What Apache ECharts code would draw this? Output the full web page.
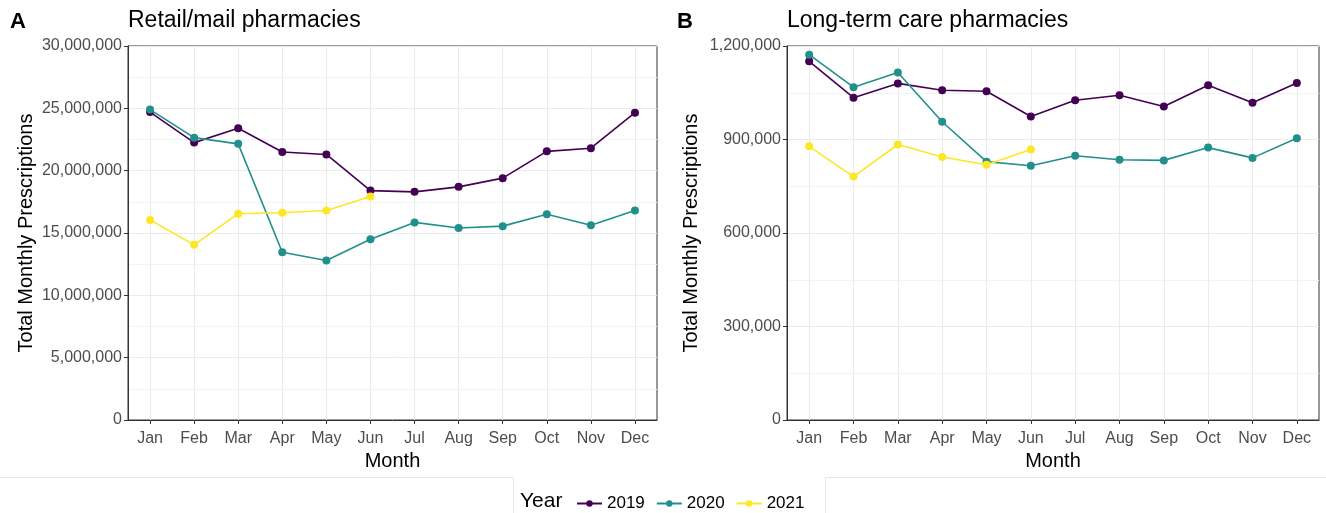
<!DOCTYPE html>
<html><head><meta charset="utf-8">
<script src="https://cdn.jsdelivr.net/npm/echarts@6/dist/echarts.min.js"></script>
<style>html,body{margin:0;padding:0;background:#fff}#c{width:1326px;height:513px}</style>
</head><body><div id="c"></div>
<script>
const months = ['Jan','Feb','Mar','Apr','May','Jun','Jul','Aug','Sep','Oct','Nov','Dec'];
const years = ['2019','2020','2021'];
const colors = ['#440154','#21908C','#FDE725'];
const retail2019 = [24700000,22250000,23400000,21500000,21300000,18400000,18300000,18700000,19400000,21550000,21800000,24650000];
const retail2020 = [24900000,22650000,22150000,13450000,12800000,14500000,15850000,15400000,15550000,16500000,15620000,16800000];
const retail2021 = [16050000,14050000,16550000,16620000,16800000,17930000];
const ltc2019 = [1151000,1034000,1080000,1058000,1055000,974000,1026000,1042000,1006000,1074000,1018000,1081000];
const ltc2020 = [1172000,1068000,1115000,957000,829000,816000,848000,835000,833000,874000,841000,904000];
const ltc2021 = [878000,781000,884000,844000,819000,868000];
const retailTicks = {min:0,max:30000000,interval:5000000};
const ltcTicks = {min:0,max:1200000,interval:300000};

const fmt = v => Number(v).toLocaleString('en-US');
const font = 'Liberation Sans, Arial, sans-serif';

function xAxis(gi){
  return {type:'category',gridIndex:gi,data:months,boundaryGap:true,
    name:'Month',nameLocation:'middle',nameGap:31,
    nameTextStyle:{color:'#000',fontSize:20,fontFamily:font},
    axisLine:{show:true,lineStyle:{color:'#333',width:1}},
    axisTick:{show:true,alignWithLabel:true,length:4,lineStyle:{color:'#333'}},
    axisLabel:{color:'#4d4d4d',fontSize:16,fontFamily:font,margin:11,interval:0},
    splitLine:{show:false}};
}
function yAxis(gi,t,gap){
  return {type:'value',gridIndex:gi,min:t.min,max:t.max,interval:t.interval,
    name:'Total Monthly Prescriptions',nameLocation:'middle',nameGap:gap,
    nameTextStyle:{color:'#000',fontSize:20,fontFamily:font},
    axisLine:{show:true,lineStyle:{color:'#333',width:1}},
    axisTick:{show:true,length:4,lineStyle:{color:'#333'}},
    axisLabel:{color:'#4d4d4d',fontSize:16,fontFamily:font,margin:6,formatter:fmt},
    splitLine:{show:true,lineStyle:{color:'#ebebeb',width:1}},
    minorTick:{show:false,splitNumber:2},
    minorSplitLine:{show:true,lineStyle:{color:'#f3f3f3',width:1}}};
}
function ser(name,data,gi,ci){
  return {type:'line',name:name,xAxisIndex:gi,yAxisIndex:gi,data:data,
    symbol:'circle',symbolSize:8,showSymbol:true,
    lineStyle:{color:colors[ci],width:1.6},itemStyle:{color:colors[ci]},
    emphasis:{disabled:true},animation:false,z:3+ci};
}
function vgrid(gi){
  return {type:'line',name:'_grid'+gi,xAxisIndex:gi,yAxisIndex:gi,data:months.map(()=>null),
    showSymbol:false,z:1,silent:true,animation:false,
    markLine:{z:1,silent:true,symbol:['none','none'],animation:false,label:{show:false},
      lineStyle:{color:'#ebebeb',width:1,type:'solid'},emphasis:{disabled:true},
      data:months.map(m=>({xAxis:m}))}};
}
const chart = echarts.init(document.getElementById('c'));
chart.setOption({
  backgroundColor:'#fff',
  animation:false,
  grid:[
    {left:128,right:669,top:46,bottom:93,show:true,borderColor:'#333',borderWidth:1,containLabel:false},
    {left:787,right:7,top:46,bottom:93,show:true,borderColor:'#333',borderWidth:1,containLabel:false}
  ],
  xAxis:[xAxis(0),xAxis(1)],
  yAxis:[yAxis(0,retailTicks,92),yAxis(1,ltcTicks,86)],
  legend:{show:true,data:years,left:571,top:490,itemWidth:25,itemHeight:8,itemGap:11,
    textStyle:{color:'#000',fontSize:17,fontFamily:font},selectedMode:false},
  series:[
    vgrid(0),vgrid(1),
    ser('2019',retail2019,0,0),ser('2020',retail2020,0,1),ser('2021',retail2021,0,2),
    ser('2019',ltc2019,1,0),ser('2020',ltc2020,1,1),ser('2021',ltc2021,1,2)
  ],
  graphic:[
    {type:'text',left:10,top:11,style:{text:'A',font:'bold 22px '+font,fill:'#000'}},
    {type:'text',left:128,top:9,style:{text:'Retail/mail pharmacies',font:'23px '+font,fill:'#000'}},
    {type:'text',left:677,top:11,style:{text:'B',font:'bold 22px '+font,fill:'#000'}},
    {type:'text',left:787,top:9,style:{text:'Long-term care pharmacies',font:'23px '+font,fill:'#000'}},
    {type:'text',left:520,top:491,style:{text:'Year',font:'21px '+font,fill:'#000'}},
    {type:'polyline',shape:{points:[[0,477.5],[513.5,477.5],[513.5,513]]},style:{stroke:'#e6e6e6',fill:null,lineWidth:1}},
    {type:'polyline',shape:{points:[[825.5,513],[825.5,477.5],[1326,477.5]]},style:{stroke:'#e6e6e6',fill:null,lineWidth:1}}
  ]
});
</script></body></html>
